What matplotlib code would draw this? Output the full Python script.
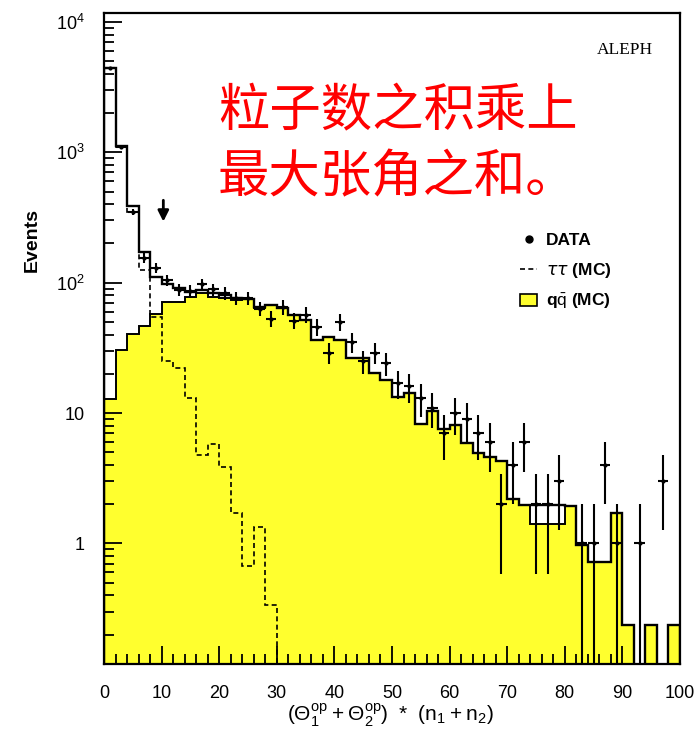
import numpy as np
import matplotlib
matplotlib.use("Agg")
import matplotlib.pyplot as plt
from matplotlib.lines import Line2D
from matplotlib.patches import Patch
from matplotlib.ticker import FixedLocator, MultipleLocator, LogLocator, NullFormatter

plt.rcParams['font.family'] = ['Liberation Sans', 'Noto Sans CJK SC', 'DejaVu Sans']
plt.rcParams['mathtext.fontset'] = 'custom'
plt.rcParams['mathtext.rm'] = 'Liberation Sans'
plt.rcParams['mathtext.it'] = 'DejaVu Sans:italic'
plt.rcParams['mathtext.bf'] = 'Liberation Sans:bold'

# bins of width 2 from 0 to 100
edges = np.arange(0, 101, 2)

# total MC (solid line)
total_mc = [4420, 1125, 388, 173, 110, 97, 91.6, 85.3, 88, 84,
            80, 75.8, 75, 65.5, 68, 63.5, 57, 51.9, 36.3, 38.1,
            36.3, 26.3, 26.3, 20.4, 17.9, 13.3, 14.3, 8.3, 10.4, 7.6,
            8.1, 5.85, 4.9, 4.6, 4.3, 2.18, 1.97, 1.97, 1.97, 1.97,
            1.93, 0.97, 0.72, 0.72, 1.70, 0.236, 0, 0.236, 0, 0.236]

# q qbar MC (yellow)
qq_mc = [12.8, 30.4, 40.4, 46.5, 58, 71.5, 71.5, 77, 83, 78,
         76, 74, 74.3, 64, 67.6, 63.5, 57, 51.9, 36.3, 38.1,
         36.3, 26.3, 26.3, 20.4, 17.9, 13.3, 14.3, 8.3, 10.4, 7.6,
         8.1, 5.85, 4.9, 4.6, 4.3, 2.18, 1.97, 1.42, 1.42, 1.42,
         1.93, 0.97, 0.72, 0.72, 1.70, 0.236, 0, 0.236, 0, 0.236]

# tau tau MC (dashed)
tautau_mc = [4400, 1095, 348, 125, 55, 25, 22.1, 13.1, 4.76, 5.75,
             3.83, 1.70, 0.67, 1.34, 0.34] + [0] * 35

# data counts
data = [4420, 1100, 351, 155, 130, 105, 88, 86, 97, 89,
        83, 76, 76, 63, 53, 65, 51, 57, 46, 29,
        50, 35, 25, 29, 24, 17, 16, 13, 11, 7,
        10, 9, 7, 6, 2, 4, 6, 2, 2, 3,
        0, 1, 1, 4, 1, 0, 1, 0, 3, 0]

total_mc = np.array(total_mc, dtype=float)
qq_mc = np.array(qq_mc, dtype=float)
tautau_mc = np.array(tautau_mc, dtype=float)
data = np.array(data, dtype=float)

floor = 1e-3
fig = plt.figure(figsize=(6.95, 7.29), dpi=100)
ax = fig.add_axes([104 / 695, 1 - 664 / 729, 576 / 695, 651 / 729])
ax.set_yscale('log')

yellow = '#ffff2e'
qq_plot = np.where(qq_mc > 0, qq_mc, floor)
ax.stairs(qq_plot, edges, baseline=floor, fill=True, facecolor=yellow, edgecolor='none', zorder=1)
ax.stairs(qq_plot, edges, baseline=floor, color='black', lw=1.4, zorder=2)
ax.stairs(np.where(total_mc > 0, total_mc, floor), edges, color='black', lw=1.7, zorder=3)
ax.stairs(np.where(tautau_mc > 0, tautau_mc, floor), edges, color='black', lw=1.2,
          linestyle=(0, (3, 2)), zorder=3)

centers = (edges[:-1] + edges[1:]) / 2
has = data > 0
ax.errorbar(centers[has], data[has], yerr=np.sqrt(data[has]), xerr=0.9,
            fmt='o', ms=2, color='black', ecolor='black', elinewidth=1.5,
            capsize=0, zorder=4)

# cut arrow
ax.annotate('', xy=(10.3, 280), xytext=(10.3, 450),
            arrowprops=dict(arrowstyle='-|>', color='black', lw=2,
                            mutation_scale=16))

ax.set_xlim(0, 100)
ax.set_ylim(0.119, 1.17e4)

ax.xaxis.set_major_locator(MultipleLocator(10))
ax.xaxis.set_minor_locator(MultipleLocator(2))
ax.yaxis.set_major_locator(FixedLocator([1, 10, 100, 1000, 10000]))
ax.set_yticklabels(['1', '10', '10$^2$', '10$^3$', '10$^4$'])
ax.yaxis.set_minor_locator(LogLocator(base=10, subs=np.arange(2, 10)))
ax.yaxis.set_minor_formatter(NullFormatter())
ax.tick_params(which='both', direction='in', top=False, right=False,
               labelsize=13, colors='black')
ax.tick_params(which='major', length=13, width=1.3)
ax.tick_params(which='minor', length=7, width=1.3)
ax.tick_params(axis='x', which='major', pad=15)
ax.tick_params(axis='y', which='major', pad=14)
for s in ax.spines.values():
    s.set_linewidth(1.6)

fig.text(32 / 695, 1 - 240 / 729, 'Events', rotation=90, ha='center', va='center',
         fontsize=14, fontweight='bold')
fig.text(390 / 695, 1 - 715 / 729,
         r'$(\Theta_1^{\mathrm{op}}+\Theta_2^{\mathrm{op}})\ *\ (\mathrm{n}_1+\mathrm{n}_2)$',
         ha='center', va='center', fontsize=15)

ax.text(0.905, 0.943, 'ALEPH', transform=ax.transAxes, ha='center', va='center',
        fontsize=12.5, family='Liberation Serif')

handles = [Line2D([], [], marker='o', ms=5, color='black', ls='none'),
           Line2D([], [], color='black', lw=1.2, ls=(0, (3, 2))),
           Patch(facecolor=yellow, edgecolor='black', lw=1.2)]
labels = ['DATA', r'$\tau\tau$ (MC)', r'q$\bar{\mathrm{q}}$ (MC)']
leg = ax.legend(handles, labels, loc='upper left', bbox_to_anchor=(0.695, 0.686),
                frameon=False, handlelength=1.0, handletextpad=0.5,
                labelspacing=0.72, prop={'size': 12.5, 'weight': 'bold'})

fig.text(218 / 695, 1 - 112 / 729, '粒子数之积乘上', color='red', fontsize=37,
         ha='left', va='center', family=['Noto Sans CJK SC'])
fig.text(218 / 695, 1 - 178 / 729, '最大张角之和。', color='red', fontsize=37,
         ha='left', va='center', family=['Noto Sans CJK SC'])

fig.savefig('out.png', dpi=100)
